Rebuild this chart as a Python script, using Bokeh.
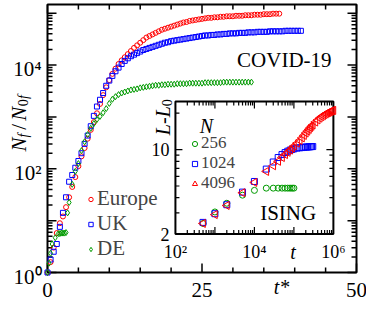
import numpy as np
from bokeh.plotting import figure
from bokeh.models import Range1d, LogScale, Label, Legend, LegendItem
from bokeh.core.properties import value
from bokeh.embed import file_html
from bokeh.resources import INLINE

# ---------------- data: COVID-19 (main panel) ----------------
tstar = [0.0, 0.5, 1.0, 1.5, 2.0, 2.5, 3.0, 3.5, 4.0, 4.5, 5.0, 5.5, 6.0, 6.5, 7.0, 7.5,
         8.0, 8.5, 9.0, 9.5, 10.0, 10.5, 11.0, 11.5, 12.0, 12.5, 13.0, 13.5, 14.0, 14.5,
         15.0, 15.5, 16.0, 16.5, 17.0, 17.5, 18.0, 18.5, 19.0, 19.5, 20.0, 20.5, 21.0,
         21.5, 22.0, 22.5, 23.0, 23.5, 24.0, 24.5, 25.0, 25.5, 26.0, 26.5, 27.0, 27.5,
         28.0, 28.5, 29.0, 29.5, 30.0, 30.5, 31.0, 31.5, 32.0, 32.5, 33.0, 33.5, 34.0,
         34.5, 35.0, 35.5, 36.0, 36.5, 37.0, 37.5, 38.0, 38.5, 39.0, 39.5, 40.0, 40.5, 41.0]

# log10(N_f/N_0f)
europe_log10 = [0.00, 0.20, 0.48, 0.76, 0.95, 1.08, 1.26, 1.45, 1.65, 1.84,
                2.05, 2.24, 2.40, 2.58, 2.75, 2.90, 3.07, 3.25, 3.42, 3.57,
                3.71, 3.83, 3.93, 4.02, 4.09, 4.15, 4.21, 4.27, 4.33, 4.38,
                4.43, 4.48, 4.53, 4.56, 4.59, 4.62, 4.65, 4.68, 4.70, 4.72,
                4.74, 4.76, 4.78, 4.80, 4.82, 4.83, 4.85, 4.86, 4.87, 4.88,
                4.89, 4.90, 4.91, 4.91, 4.92, 4.92, 4.93, 4.93, 4.94, 4.94,
                4.94, 4.95, 4.95, 4.95, 4.96, 4.96, 4.96, 4.97, 4.97, 4.97,
                4.98, 4.98, 4.98, 4.99, 4.99, 4.99]

uk_log10 = [0.00, 0.25, 0.40, 0.55, 0.88, 1.15, 1.45, 1.75, 1.88, 2.02,
            2.15, 2.30, 2.48, 2.64, 2.82, 3.02, 3.20, 3.33, 3.46, 3.60,
            3.70, 3.79, 3.88, 3.95, 4.02, 4.08, 4.13, 4.17, 4.20, 4.23,
            4.26, 4.29, 4.31, 4.33, 4.35, 4.37, 4.39, 4.41, 4.43, 4.44,
            4.46, 4.47, 4.48, 4.49, 4.50, 4.51, 4.52, 4.53, 4.54, 4.55,
            4.56, 4.57, 4.57, 4.58, 4.58, 4.59, 4.59, 4.60, 4.60, 4.61,
            4.61, 4.61, 4.62, 4.62, 4.62, 4.63, 4.63, 4.63, 4.64, 4.64,
            4.64, 4.64, 4.65, 4.65, 4.65, 4.65, 4.65, 4.66, 4.66, 4.66,
            4.66, 4.66, 4.66]

de_tstar = [0.0, 0.25, 0.5, 0.75, 1.25, 1.75, 2.0, 2.25, 2.5, 2.75, 3.0, 3.25, 3.5,
            4.0, 4.5, 5.0, 5.5, 6.0, 6.5, 7.0, 7.5, 8.0, 8.5, 9.0, 9.5, 10.0, 10.5,
            11.0, 11.5, 12.0, 12.5, 13.0, 13.5, 14.0, 14.5, 15.0, 15.5, 16.0, 16.5,
            17.0, 17.5, 18.0, 18.5, 19.0, 19.5, 20.0, 20.5, 21.0, 21.5, 22.0, 22.5,
            23.0, 23.5, 24.0, 24.5, 25.0, 25.5, 26.0, 26.5, 27.0, 27.5, 28.0, 28.5,
            29.0, 29.5, 30.0, 30.5, 31.0, 31.5, 32.0, 32.5, 33.0]
de_log10 = [0.00, 0.18, 0.37, 0.55, 0.67, 0.75, 0.75, 0.76, 0.76, 0.76, 0.77, 1.15, 1.35,
            1.70, 1.95, 2.10, 2.35, 2.52, 2.66, 2.78, 2.87, 2.95, 3.01,
            3.08, 3.16, 3.26, 3.34, 3.39, 3.43, 3.46, 3.48, 3.50, 3.52,
            3.53, 3.54, 3.56, 3.57, 3.58, 3.59, 3.60, 3.61, 3.61, 3.62,
            3.62, 3.63, 3.63, 3.63, 3.64, 3.64, 3.64, 3.64, 3.65, 3.65,
            3.65, 3.65, 3.65, 3.66, 3.66, 3.66, 3.66, 3.66, 3.66, 3.67,
            3.67, 3.67, 3.67, 3.67, 3.67, 3.67, 3.67, 3.67, 3.67]

# ---------------- data: ISING (inset), L - L0 versus t ----------------
ising_t_256 = [500, 1000, 2000, 5000, 10000, 20000, 30000, 40000, 50000, 60000,
               70000, 80000, 90000, 100000]
ising_L_256 = [2.45, 3.05, 3.6, 4.2, 4.6, 4.8, 4.8, 4.8, 4.8, 4.8, 4.8, 4.8, 4.8, 4.8]

ising_t_1024 = [500, 1000, 2000, 5000, 10000, 20000, 30000, 40000, 50000, 60000,
                70000, 80000, 90000, 100000, 120000, 140000, 160000, 180000, 200000,
                220000, 240000, 260000, 280000, 300000]
ising_L_1024 = [2.5, 2.95, 3.5, 4.45, 5.45, 6.9, 7.9, 8.6, 9.1, 9.45, 9.7, 9.9, 10.05,
                10.15, 10.3, 10.35, 10.4, 10.45, 10.5, 10.5, 10.55, 10.55, 10.6, 10.6]

ising_t_4096 = [500, 1000, 2000, 5000, 10000, 20000, 30000, 40000, 50000, 60000,
                70000, 80000, 90000, 100000, 120000, 140000, 160000, 180000, 200000,
                220000, 240000, 260000, 280000, 300000, 350000, 400000, 450000, 500000,
                550000, 600000, 650000, 700000, 750000, 800000, 850000, 900000, 950000,
                1000000]
ising_L_4096 = [2.45, 2.9, 3.45, 4.4, 5.35, 6.6, 7.35, 8.0, 8.6, 9.1, 9.5, 9.9, 10.3,
                10.7, 11.3, 11.9, 12.5, 13.1, 13.7, 14.2, 14.7, 15.2, 15.6, 16.0, 16.9,
                17.6, 18.2, 18.7, 19.1, 19.5, 19.8, 20.1, 20.3, 20.5, 20.7, 20.9, 21.0,
                21.1]

main_legend_labels = ["Europe", "UK", "DE"]
inset_legend_labels = ["256", "1024", "4096"]

# tick values and tick labels
main_x_ticks = [0, 25, 50]
main_x_minor = [5, 10, 15, 20, 30, 35, 40, 45]
main_x_tick_labels = ["0", "25", "50"]
main_y_ticks = [1e0, 1e1, 1e2, 1e3, 1e4, 1e5]
main_y_labelled = [1e0, 1e2, 1e4]
main_y_tick_labels = ["10\u2070", "10\u00b2", "10\u2074"]
inset_x_ticks = [1e3, 1e4, 1e5]
inset_x_labelled = [1e2, 1e4, 1e6]
inset_x_tick_labels = ["10\u00b2", "10\u2074", "10\u2076"]
inset_y_ticks = [10.0]
inset_y_minor = [3, 4, 5, 6, 7, 8, 9, 20]
inset_y_labelled = [10.0, 2.0]
inset_y_tick_labels = ["10", "2"]

# ---------------- styling / layout ----------------
FONT = "Liberation Serif"
RED, BLUE, GREEN = "#ff0000", "#0000ff", "#009a00"

W, H = 366, 302
AX_L, AX_R, AX_T, AX_B = 47.0, 356.0, 4.0, 272.0   # axes box inside the canvas (px)
X0, X1 = 0.0, 50.0
LY_TOP = 5.167                                      # log10 of the top of the main y axis
PX_U = (AX_R - AX_L) / (X1 - X0)                    # px per t* unit
DEC = (AX_B - AX_T) / LY_TOP                        # px per decade (main y)
Y_TOP = 10 ** LY_TOP
XLO, XHI = X0 - AX_L / PX_U, X1 + (W - AX_R) / PX_U
LYLO, LYHI = -(H - AX_B) / DEC, LY_TOP + AX_T / DEC
# reference-layout pixel grid -> this canvas
SX = (AX_R - AX_L) / (368.0 - 47.0)
SY = (AX_B - AX_T) / (283.0 - 4.0)

p = figure(width=W, height=H, x_range=Range1d(XLO, XHI), y_range=Range1d(10 ** LYLO, 10 ** LYHI),
           y_axis_type="log", x_axis_location=None, y_axis_location=None,
           output_backend="svg", toolbar_location=None,
           min_border_left=0, min_border_right=0, min_border_top=0, min_border_bottom=0)
p.background_fill_color = "white"
p.border_fill_color = "white"
p.outline_line_color = None
p.grid.visible = False


def main_at(rx, ry):
    """layout position (reference pixel grid) -> main data coords"""
    cx = AX_L + (rx - 47.0) * SX
    cy = AX_T + (ry - 4.0) * SY
    return X0 + (cx - AX_L) / PX_U, 10 ** ((AX_B - cy) / DEC)


# ---------------- main axes box, ticks, tick labels ----------------
p.quad(left=[X0], right=[X1], bottom=[1.0], top=[Y_TOP], fill_color=None,
       line_color="black", line_width=2)
sx0, sy0, sx1, sy1 = [], [], [], []
for ticks, ln in ((main_x_ticks, 9), (main_x_minor, 5)):
    f = 10 ** (ln / DEC)
    for v in ticks:
        sx0 += [v, v]; sx1 += [v, v]
        sy0 += [1.0, Y_TOP]; sy1 += [f, Y_TOP / f]
y_minor = [k * d for d in main_y_ticks[:-1] for k in range(2, 10)]
for ticks, ln in ((main_y_ticks, 9), (y_minor, 5)):
    for v in ticks:
        sy0 += [v, v]; sy1 += [v, v]
        sx0 += [X0, X1]; sx1 += [X0 + ln / PX_U, X1 - ln / PX_U]
p.segment(x0=sx0, y0=sy0, x1=sx1, y1=sy1, line_color="black", line_width=1.5)

p.text(x=main_x_ticks, y=[1.0] * 3, text=main_x_tick_labels, text_font=value(FONT),
       text_font_size=value("21px"), text_align="center", text_baseline="middle",
       y_offset=17, text_color="black")
p.text(x=[X0] * 3, y=main_y_labelled, text=main_y_tick_labels, text_font=value(FONT),
       text_font_size=value("21px"), text_align="right", text_baseline="middle",
       x_offset=-6, y_offset=4, text_color="black")

# ---------------- main data ----------------
r_eu = p.scatter(tstar[:len(europe_log10)], 10 ** np.array(europe_log10), marker="circle",
                 size=5, fill_color=None, line_color=RED, line_width=1)
r_uk = p.scatter(tstar[:len(uk_log10)], 10 ** np.array(uk_log10), marker="square",
                 size=5, fill_color=None, line_color=BLUE, line_width=1)
r_de = p.scatter(de_tstar, 10 ** np.array(de_log10), marker="diamond",
                 size=6, fill_color=None, line_color=GREEN, line_width=1)

# ---------------- inset: placed in main-panel coordinates ----------------
IN_X0, IN_X1 = 20.7, 46.26         # main t* of inset left/right frame
IN_LY0, IN_LY1 = 0.740, 3.297      # main log10 y of inset bottom/top frame
IT0, IT1 = 1e2, 1e6                # inset t range
IL0, IL1 = 2.0, 25.0               # inset L-L0 range

lt0, lt1 = np.log10(IT0), np.log10(IT1)
kx = (IN_X1 - IN_X0) / (lt1 - lt0)
ll0, ll1 = np.log10(IL0), np.log10(IL1)
ky = (IN_LY1 - IN_LY0) / (ll1 - ll0)
p.extra_x_ranges = {"ix": Range1d(10 ** (lt0 - (IN_X0 - XLO) / kx), 10 ** (lt1 + (XHI - IN_X1) / kx))}
p.extra_x_scales = {"ix": LogScale()}
p.extra_y_ranges = {"iy": Range1d(10 ** (ll0 - (IN_LY0 - LYLO) / ky), 10 ** (ll1 + (LYHI - IN_LY1) / ky))}
p.extra_y_scales = {"iy": LogScale()}
PXD_X = kx * PX_U                  # px per decade, inset x
PXD_Y = ky * DEC                   # px per decade, inset y
IN = dict(x_range_name="ix", y_range_name="iy")


def inset_at(rx, ry):
    """layout position (reference pixel grid) -> inset data coords"""
    x, y = main_at(rx, ry)
    return (10 ** (lt0 + (x - IN_X0) / kx), 10 ** (ll0 + (np.log10(y) - IN_LY0) / ky))


p.quad(left=[IT0], right=[IT1], bottom=[IL0], top=[IL1], fill_color="white",
       line_color="black", line_width=2, **IN)

ix_minor = [k * 10.0 ** d for d in range(2, 6) for k in range(2, 10)]
x0s, y0s, x1s, y1s = [], [], [], []
for ticks, ln in ((inset_x_ticks, 7), (ix_minor, 4)):
    f = 10 ** (ln / PXD_Y)
    for t in ticks:
        x0s += [t, t]; x1s += [t, t]
        y0s += [IL0, IL1]; y1s += [IL0 * f, IL1 / f]
for ticks, ln in ((inset_y_ticks, 7), (inset_y_minor, 4)):
    f = 10 ** (ln / PXD_X)
    for v in ticks:
        y0s += [v, v]; y1s += [v, v]
        x0s += [IT0, IT1]; x1s += [IT0 * f, IT1 / f]
p.segment(x0=x0s, y0=y0s, x1=x1s, y1=y1s, line_color="black", line_width=1.2, **IN)

r_256 = p.scatter(ising_t_256, ising_L_256, marker="circle", size=6, fill_color=None,
                  line_color=GREEN, line_width=1, **IN)
r_1024 = p.scatter(ising_t_1024, ising_L_1024, marker="square", size=6, fill_color=None,
                   line_color=BLUE, line_width=1, **IN)
r_4096 = p.scatter(ising_t_4096, ising_L_4096, marker="triangle", angle=np.pi / 2, size=8,
                   fill_color=None, line_color=RED, line_width=1, **IN)

p.text(x=inset_x_labelled, y=[IL0] * 3, text=inset_x_tick_labels, text_font=value(FONT),
       text_font_size=value("18px"), text_align="center", text_baseline="middle",
       y_offset=18, text_color="black", **IN)
p.text(x=[IT0] * 2, y=inset_y_labelled, text=inset_y_tick_labels, text_font=value(FONT),
       text_font_size=value("18px"), text_align="right", text_baseline="middle",
       x_offset=-6, text_color="black", **IN)


def add_label(text, xy, size, italic=False, angle=0.0, align="left", baseline="alphabetic",
              inset=False):
    kw = dict(x_range_name="ix", y_range_name="iy") if inset else {}
    p.add_layout(Label(x=xy[0], y=xy[1], text=text, text_font=FONT, text_font_size=size,
                       text_font_style="italic" if italic else "normal", angle=angle,
                       text_align=align, text_baseline=baseline, text_color="black", **kw))


# inset texts
add_label("t", inset_at(302, 262), "20px", italic=True, align="center", baseline="middle",
          inset=True)
add_label("ISING", inset_at(297, 221), "21px", align="center", baseline="middle", inset=True)
add_label("N", inset_at(212, 131), "20px", italic=True, align="center", baseline="middle",
          inset=True)
add_label("L-L", inset_at(167, 140), "20px", italic=True, angle=np.pi / 2, inset=True)
add_label("0", inset_at(171, 110), "14px", angle=np.pi / 2, inset=True)

# main texts
add_label("COVID-19", main_at(293, 62), "21px", align="center", baseline="middle")
add_label("t*", main_at(290, 298.5), "20px", italic=True, align="center", baseline="middle")
add_label("N", main_at(17, 157), "21px", italic=True, angle=np.pi / 2)
add_label("f", main_at(22, 142.5), "14px", italic=True, angle=np.pi / 2)
add_label("/", main_at(17, 134.5), "21px", angle=np.pi / 2)
add_label("N", main_at(17, 125), "21px", italic=True, angle=np.pi / 2)
add_label("0", main_at(22, 110), "14px", angle=np.pi / 2)
add_label("f", main_at(22, 102.5), "14px", italic=True, angle=np.pi / 2)

# legends (location = bottom-left corner, px from the canvas' bottom-left)
leg_main = Legend(items=[LegendItem(label=l, renderers=[r]) for l, r in
                         zip(main_legend_labels, [r_eu, r_uk, r_de])],
                  location=(85, 41), glyph_width=11, glyph_height=24, label_height=24,
                  spacing=0, padding=0, margin=0, label_standoff=1,
                  label_text_font=FONT, label_text_font_size="21px",
                  background_fill_alpha=0, border_line_alpha=0)
p.add_layout(leg_main)
leg_in = Legend(items=[LegendItem(label=l, renderers=[r]) for l, r in
                       zip(inset_legend_labels, [r_256, r_1024, r_4096])],
                location=(188, 109), glyph_width=13, glyph_height=19, label_height=19,
                spacing=0, padding=0, margin=0, label_standoff=0,
                label_text_font=FONT, label_text_font_size="17px",
                background_fill_alpha=0, border_line_alpha=0)
p.add_layout(leg_in)

open("out.html", "w", encoding="utf-8").write(file_html(p, INLINE))
